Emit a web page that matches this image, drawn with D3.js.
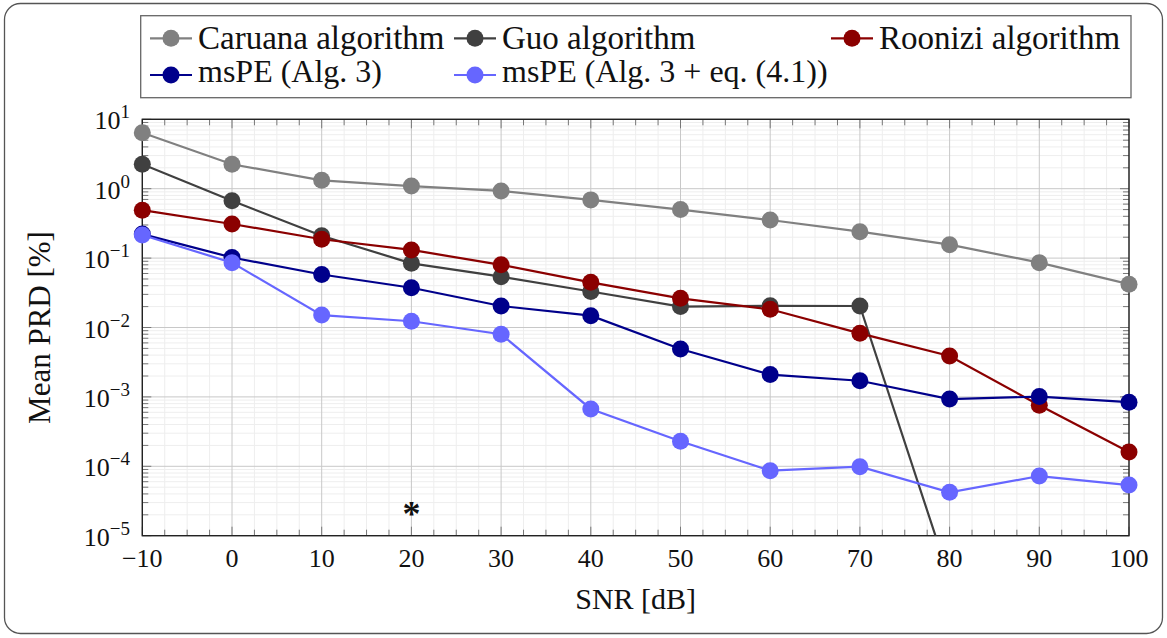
<!DOCTYPE html>
<html>
<head>
<meta charset="utf-8">
<script src="https://cdn.jsdelivr.net/npm/d3@7"></script>
<style>
  html, body { margin: 0; padding: 0; background: #fff; }
  svg { display: block; font-family: "Liberation Serif", "Times New Roman", serif; }
</style>
</head>
<body>
<svg id="chart" width="1167" height="638"></svg>
<script>
// SNR levels (dB) on the horizontal axis
const snr = [-10, 0, 10, 20, 30, 40, 50, 60, 70, 80, 90, 100];

// Mean PRD (%) per method
const caruana = [6.4, 2.25, 1.32, 1.09, 0.93, 0.69, 0.50, 0.354, 0.24, 0.156, 0.086, 0.042];
const guoSnr  = [-10, 0, 10, 20, 30, 40, 50, 60, 70, 80];
const guo     = [2.25, 0.671, 0.21, 0.084, 0.054, 0.033, 0.020, 0.0205, 0.0204, 2.4e-6];
const roonizi = [0.49, 0.31, 0.187, 0.131, 0.080, 0.0448, 0.0263, 0.0183, 0.00824, 0.00388, 0.00076, 0.000161];
const mspe    = [0.222, 0.102, 0.058, 0.0374, 0.0204, 0.0148, 0.0049, 0.0021, 0.00171, 0.00093, 0.00101, 0.00084];
const mspeEq  = [0.215, 0.086, 0.0151, 0.0123, 0.0080, 0.00067, 0.000229, 0.0000865, 0.0000986, 0.0000422, 0.0000724, 0.0000537];

// Axis ticks
const xTicks = [-10, 0, 10, 20, 30, 40, 50, 60, 70, 80, 90, 100];
const yExponents = [1, 0, -1, -2, -3, -4, -5];

// Legend labels
const legendLabels = ["Caruana algorithm", "Guo algorithm", "Roonizi algorithm",
                      "msPE (Alg. 3)", "msPE (Alg. 3 + eq. (4.1))"];

const series = [
  { name: legendLabels[0], x: snr,    y: caruana, color: "#808080" },
  { name: legendLabels[1], x: guoSnr, y: guo,     color: "#404040" },
  { name: legendLabels[2], x: snr,    y: roonizi, color: "#8b0000" },
  { name: legendLabels[3], x: snr,    y: mspe,    color: "#00008b" },
  { name: legendLabels[4], x: snr,    y: mspeEq,  color: "#6666ff" }
];

const svg = d3.select("#chart");
const W = 1167, H = 638;
const plot = { left: 142.3, right: 1129, top: 119.3, bottom: 535.7 };

const x = d3.scaleLinear().domain([-10, 100]).range([plot.left, plot.right]);
const y = d3.scaleLog().domain([1e-5, 10]).range([plot.bottom, plot.top]);

// outer frame
svg.append("rect")
  .attr("x", 4.5).attr("y", 3.5).attr("width", W - 9).attr("height", H - 8)
  .attr("rx", 16).attr("ry", 16)
  .attr("fill", "#fff").attr("stroke", "#555").attr("stroke-width", 1.3);

// clip region for curves
svg.append("defs").append("clipPath").attr("id", "plotClip")
  .append("rect")
  .attr("x", plot.left).attr("y", plot.top)
  .attr("width", plot.right - plot.left).attr("height", plot.bottom - plot.top);

// grid lines
const grid = svg.append("g");
const xMinor = d3.range(-10, 100.001, 2.5).filter(v => !xTicks.includes(v));
const yMinor = [];
for (let e = -5; e < 1; e++) for (let m = 2; m <= 9; m++) yMinor.push(m * Math.pow(10, e));
const yMajor = yExponents.map(e => Math.pow(10, e));

grid.selectAll(".xminor").data(xMinor).join("line")
  .attr("x1", d => x(d)).attr("x2", d => x(d))
  .attr("y1", plot.top).attr("y2", plot.bottom)
  .attr("stroke", "#eeeeee").attr("stroke-width", 1);
grid.selectAll(".yminor").data(yMinor).join("line")
  .attr("x1", plot.left).attr("x2", plot.right)
  .attr("y1", d => y(d)).attr("y2", d => y(d))
  .attr("stroke", "#eeeeee").attr("stroke-width", 1);
grid.selectAll(".xmajor").data(xTicks).join("line")
  .attr("x1", d => x(d)).attr("x2", d => x(d))
  .attr("y1", plot.top).attr("y2", plot.bottom)
  .attr("stroke", "#c8c8c8").attr("stroke-width", 1);
grid.selectAll(".ymajor").data(yMajor).join("line")
  .attr("x1", plot.left).attr("x2", plot.right)
  .attr("y1", d => y(d)).attr("y2", d => y(d))
  .attr("stroke", "#c8c8c8").attr("stroke-width", 1);

// inward ticks on all four sides
const ticks = svg.append("g").attr("stroke", "#777").attr("stroke-width", 1);
const majLen = 9, minLen = 6;
xTicks.forEach(v => {
  ticks.append("line").attr("x1", x(v)).attr("x2", x(v)).attr("y1", plot.bottom).attr("y2", plot.bottom - majLen);
  ticks.append("line").attr("x1", x(v)).attr("x2", x(v)).attr("y1", plot.top).attr("y2", plot.top + majLen);
});
xMinor.forEach(v => {
  ticks.append("line").attr("x1", x(v)).attr("x2", x(v)).attr("y1", plot.bottom).attr("y2", plot.bottom - minLen);
  ticks.append("line").attr("x1", x(v)).attr("x2", x(v)).attr("y1", plot.top).attr("y2", plot.top + minLen);
});
yMajor.forEach(v => {
  ticks.append("line").attr("x1", plot.left).attr("x2", plot.left + majLen).attr("y1", y(v)).attr("y2", y(v));
  ticks.append("line").attr("x1", plot.right).attr("x2", plot.right - majLen).attr("y1", y(v)).attr("y2", y(v));
});
yMinor.forEach(v => {
  ticks.append("line").attr("x1", plot.left).attr("x2", plot.left + minLen).attr("y1", y(v)).attr("y2", y(v));
  ticks.append("line").attr("x1", plot.right).attr("x2", plot.right - minLen).attr("y1", y(v)).attr("y2", y(v));
});

// axis box
svg.append("rect")
  .attr("x", plot.left).attr("y", plot.top)
  .attr("width", plot.right - plot.left).attr("height", plot.bottom - plot.top)
  .attr("fill", "none").attr("stroke", "#222").attr("stroke-width", 1.4);

// x tick labels
svg.append("g").selectAll("text").data(xTicks).join("text")
  .attr("x", d => x(d)).attr("y", plot.bottom + 31)
  .attr("text-anchor", "middle").attr("font-size", 26).attr("fill", "#111")
  .text(d => d < 0 ? "\u2212" + Math.abs(d) : String(d));

// y tick labels: 10^e
const yl = svg.append("g");
yExponents.forEach(e => {
  const t = yl.append("text")
    .attr("x", 130).attr("y", y(Math.pow(10, e)) + 10)
    .attr("text-anchor", "end").attr("fill", "#111");
  t.append("tspan").attr("font-size", 26).text("10");
  t.append("tspan").attr("font-size", 19).attr("dy", -11)
    .text(e < 0 ? "\u2212" + Math.abs(e) : String(e));
});

// axis titles
svg.append("text")
  .attr("x", (plot.left + plot.right) / 2).attr("y", 609)
  .attr("text-anchor", "middle").attr("font-size", 30).attr("fill", "#111")
  .text("SNR [dB]");
svg.append("text")
  .attr("transform", `translate(50, ${(plot.top + plot.bottom) / 2}) rotate(-90)`)
  .attr("text-anchor", "middle").attr("font-size", 31).attr("fill", "#111")
  .text("Mean PRD [%]");

// series lines and markers
const lineGen = d3.line().x(d => x(d[0])).y(d => y(d[1]));
const curves = svg.append("g");
series.forEach(s => {
  const pts = s.x.map((v, i) => [v, s.y[i]]);
  const g = curves.append("g");
  g.append("path").datum(pts)
    .attr("clip-path", "url(#plotClip)")
    .attr("d", lineGen)
    .attr("fill", "none").attr("stroke", s.color).attr("stroke-width", 2.2);
  g.selectAll("circle").data(pts.filter(p => p[1] >= 1e-5 && p[1] <= 10)).join("circle")
    .attr("cx", d => x(d[0])).attr("cy", d => y(d[1])).attr("r", 8.5)
    .attr("fill", s.color);
});

// annotation marker
svg.append("text")
  .attr("x", x(20)).attr("y", 526)
  .attr("text-anchor", "middle").attr("font-size", 36).attr("font-weight", "bold")
  .attr("fill", "#111")
  .text("*");

// legend
const legend = svg.append("g");
legend.append("rect")
  .attr("x", 140.7).attr("y", 15.7).attr("width", 1131 - 140.7).attr("height", 97.7 - 15.7)
  .attr("fill", "#fff").attr("stroke", "#666").attr("stroke-width", 1.3);
const legendPos = [
  { lx: 150, my: 38.3, ty: 49, fs: 33 },
  { lx: 454, my: 38.3, ty: 49, fs: 33 },
  { lx: 831, my: 38.3, ty: 49, fs: 33 },
  { lx: 150, my: 75, ty: 82, fs: 32 },
  { lx: 454, my: 75, ty: 82, fs: 32 }
];
series.forEach((s, i) => {
  const p = legendPos[i];
  legend.append("line")
    .attr("x1", p.lx).attr("x2", p.lx + 42).attr("y1", p.my).attr("y2", p.my)
    .attr("stroke", s.color).attr("stroke-width", 2.2);
  legend.append("circle").attr("cx", p.lx + 21).attr("cy", p.my).attr("r", 8.5).attr("fill", s.color);
  legend.append("text")
    .attr("x", p.lx + 48).attr("y", p.ty)
    .attr("font-size", p.fs).attr("fill", "#111")
    .text(s.name);
});
</script>
</body>
</html>
